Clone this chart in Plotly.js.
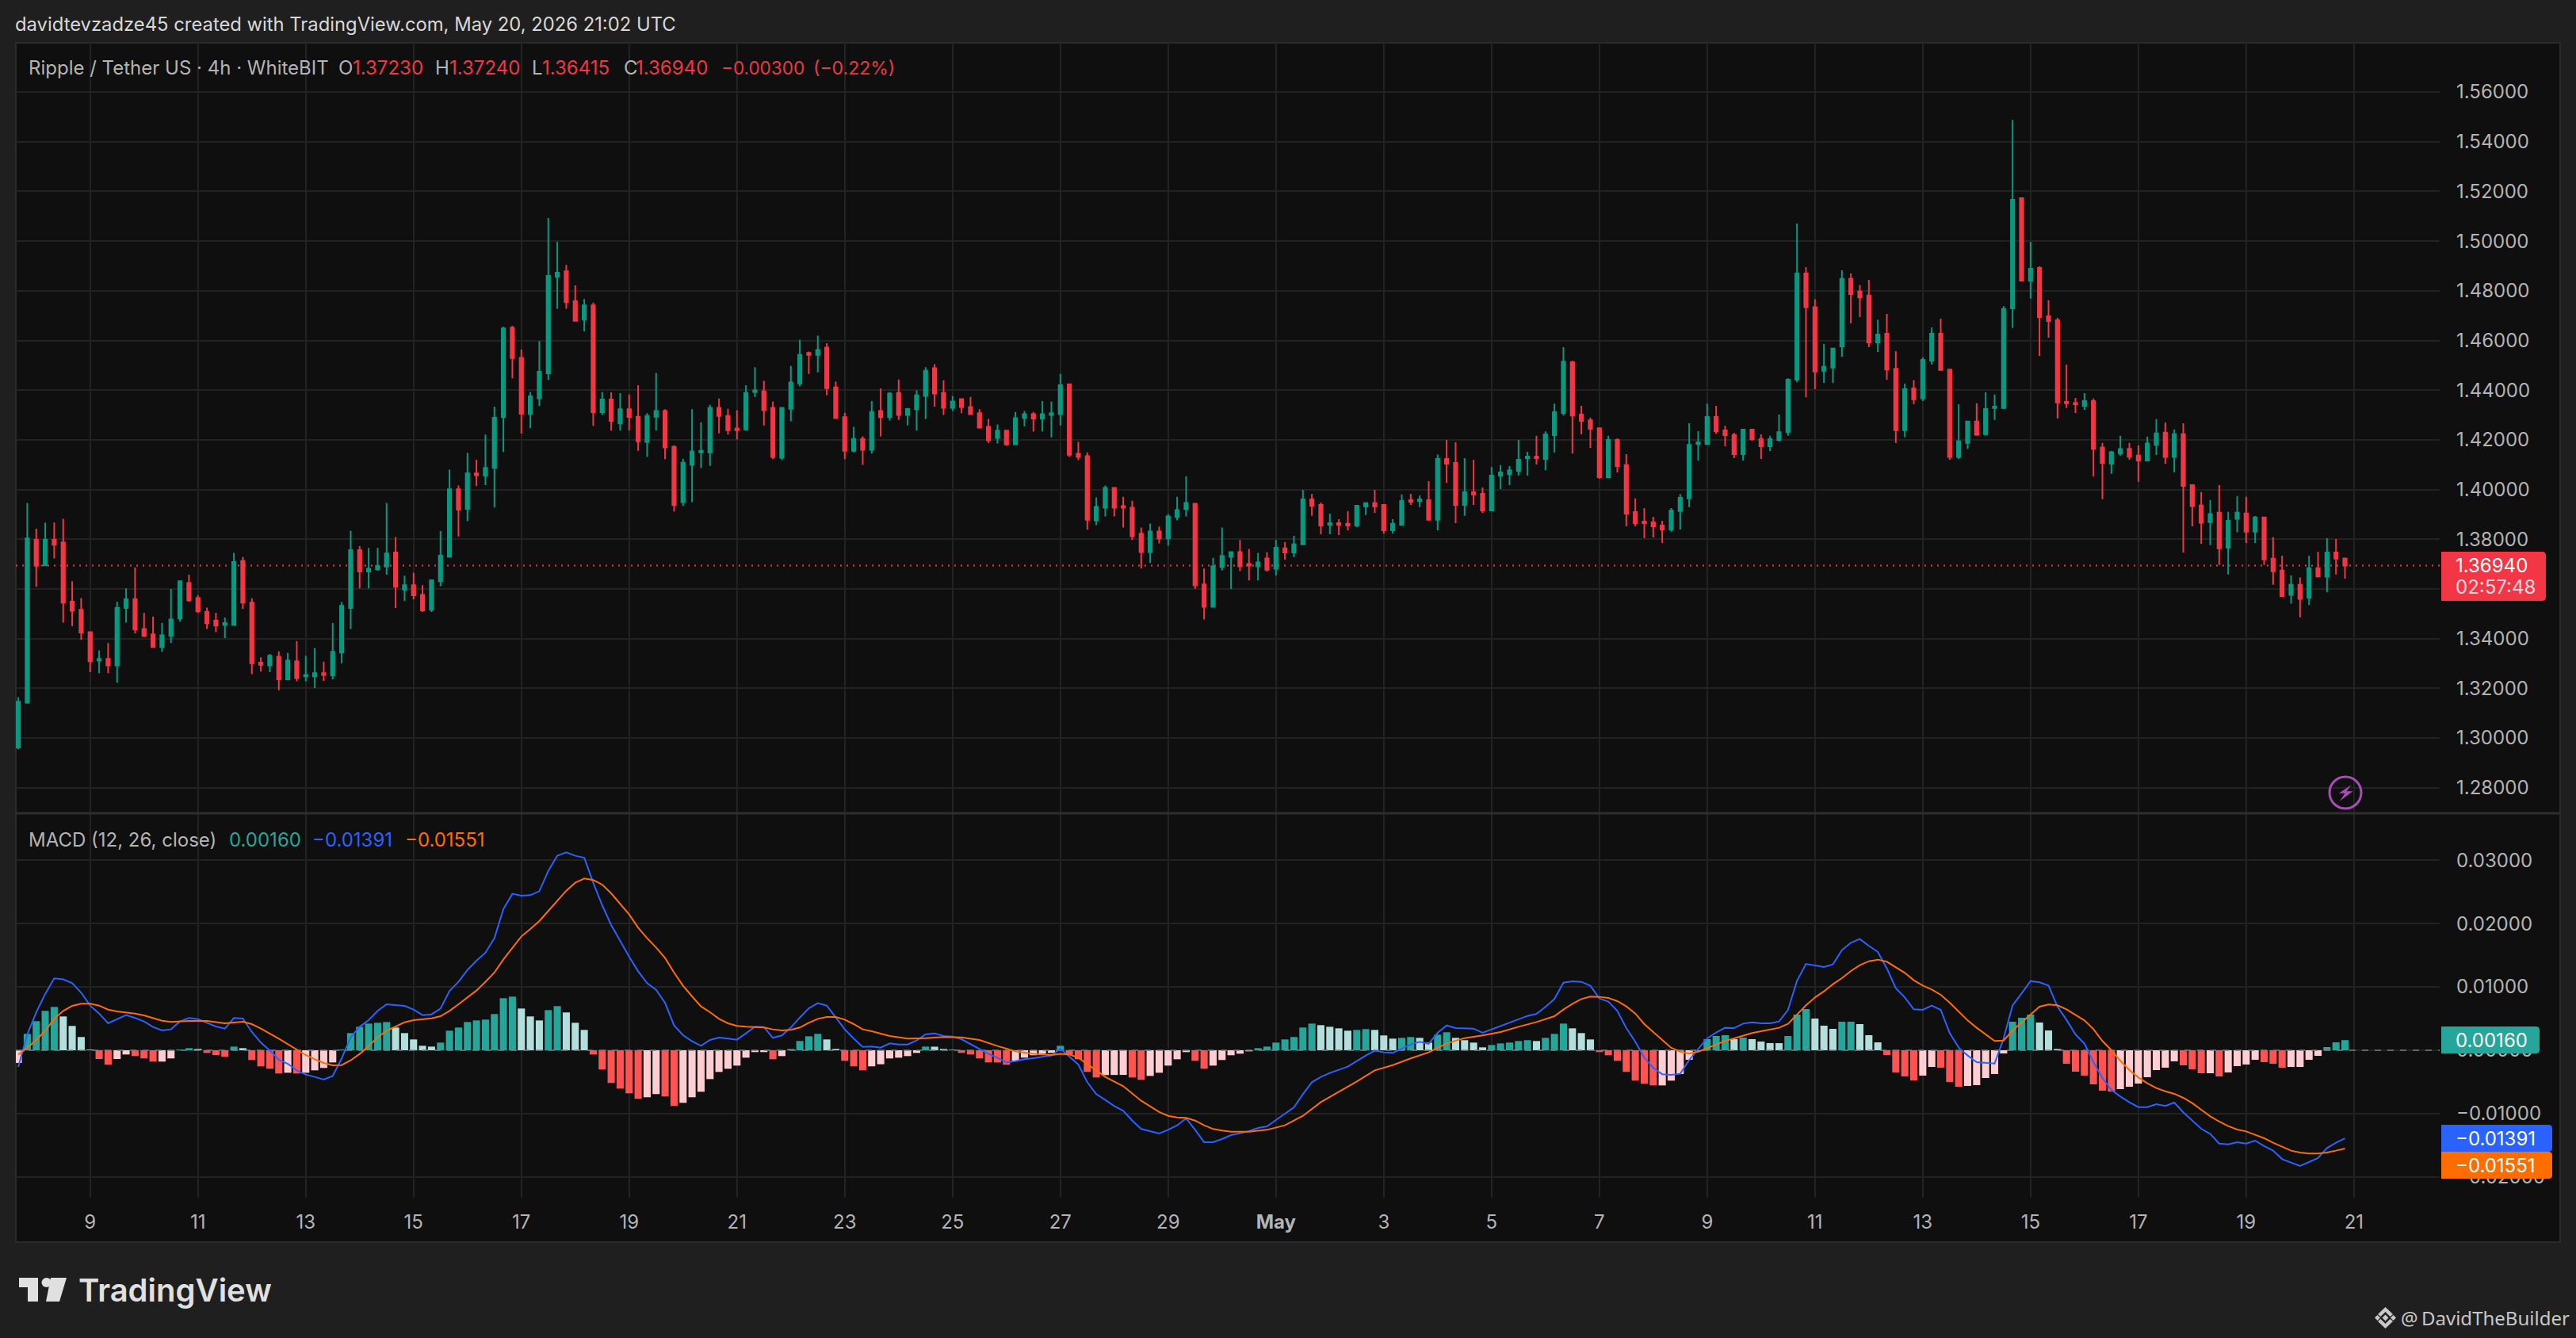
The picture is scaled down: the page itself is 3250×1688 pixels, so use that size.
<!DOCTYPE html>
<html>
<head>
<meta charset="utf-8">
<script src="https://cdn.plot.ly/plotly-3.0.1.min.js"></script>
<style>html,body{margin:0;padding:0;background:#1f1f1f}#chart{width:3250px;height:1688px}</style>
</head>
<body>
<div id="chart"></div>
<script>
// ---------- values (4h bars, oldest first) ----------
const barDirection =
"GGRGRRRRRG"+"RGGRRRGGGR"+"RRRGGRRRGR"+"GRGGRGGGRG"+"GGRGRRGGGR"+"GRGGGRRGGG"+"GRRGRGRGRR"+"GGRRGGGGRR"+"RGGRRGGGRG"+"RRRGRGRGRG"+
"GGRRGRRRRG"+"RGGRGGGRRR"+"GGRRRRGRGG"+"GRRGGGRRGR"+"GRGGRRGRRG"+"GRRGGRGRGR"+"RGRRGGGGGR"+"GGGRRRRGRR"+"RRRRGGGGGR"+"RRGRRGGGGR"+
"RGGGRRRGRR"+"GRGGRRGGRG"+"GGGRGRRRRR"+"GRRGGRRGGR"+"GRRRGRGGRG"+"RRRGRGRGRR";

const highs = [
1.3164,1.3946,1.3842,1.3867,1.3867,1.3882,1.3631,1.3563,1.3426,1.3353,
1.3382,1.3549,1.3602,1.3686,1.3503,1.3488,1.3463,1.3600,1.3631,1.3657,
1.3574,1.3525,1.3503,1.3485,1.3745,1.3728,1.3562,1.3325,1.3338,1.3349,
1.3342,1.3390,1.3331,1.3362,1.3307,1.3463,1.3547,1.3834,1.3772,1.3765,
1.3765,1.3946,1.3809,1.3653,1.3665,1.3615,1.3635,1.3833,1.4080,1.4016,
1.4148,1.4120,1.4221,1.4334,1.4655,1.4659,1.4563,1.4393,1.4598,1.5093,
1.4997,1.4904,1.4822,1.4767,1.4752,1.4393,1.4391,1.4388,1.4382,1.4420,
1.4307,1.4469,1.4323,1.4178,1.4124,1.4323,1.4271,1.4341,1.4366,1.4325,
1.4319,1.4420,1.4492,1.4437,1.4354,1.4329,1.4497,1.4603,1.4555,1.4619,
1.4589,1.4434,1.4309,1.4252,1.4214,1.4356,1.4407,1.4393,1.4443,1.4329,
1.4399,1.4492,1.4504,1.4440,1.4377,1.4366,1.4373,1.4323,1.4284,1.4262,
1.4239,1.4312,1.4316,1.4312,1.4356,1.4354,1.4465,1.4424,1.4192,1.4149,
1.3968,1.4016,1.4010,1.3971,1.3955,1.3847,1.3863,1.3851,1.3901,1.3971,
1.4054,1.3946,1.3682,1.3725,1.3847,1.3748,1.3797,1.3761,1.3745,1.3748,
1.3798,1.3788,1.3814,1.3999,1.3983,1.3948,1.3903,1.3881,1.3913,1.3938,
1.3945,1.3999,1.3941,1.3881,1.3980,1.3983,1.3976,1.4034,1.4141,1.4200,
1.4190,1.4126,1.4120,1.4008,1.4091,1.4098,1.4094,1.4200,1.4152,1.4216,
1.4234,1.4346,1.4573,1.4518,1.4337,1.4289,1.4247,1.4216,1.4206,1.4142,
1.3964,1.3925,1.3890,1.3874,1.3925,1.3982,1.4267,1.4235,1.4346,1.4337,
1.4257,1.4228,1.4244,1.4244,1.4222,1.4216,1.4302,1.4448,1.5071,1.4895,
1.4766,1.4586,1.4567,1.4882,1.4870,1.4823,1.4844,1.4684,1.4707,1.4557,
1.4426,1.4440,1.4532,1.4653,1.4688,1.4486,1.4343,1.4274,1.4347,1.4391,
1.4382,1.4738,1.5488,1.5176,1.4997,1.4898,1.4762,1.4691,1.4503,1.4369,
1.4388,1.4366,1.4188,1.4156,1.4216,1.4188,1.4177,1.4213,1.4283,1.4270,
1.4242,1.4267,1.4021,1.3990,1.3958,1.4018,1.3910,1.3974,1.3971,1.3893,
1.3888,1.3808,1.3734,1.3655,1.3646,1.3734,1.3750,1.3804,1.3801,1.3724];

const bodyTops = [
1.3146,1.3803,1.3798,1.3798,1.3798,1.3787,1.3549,1.3516,1.3426,1.3318,
1.3318,1.3523,1.3558,1.3558,1.3439,1.3417,1.3413,1.3477,1.3631,1.3624,
1.3563,1.3507,1.3472,1.3463,1.3708,1.3712,1.3545,1.3303,1.3331,1.3327,
1.3312,1.3309,1.3254,1.3261,1.3261,1.3347,1.3532,1.3756,1.3756,1.3681,
1.3692,1.3743,1.3747,1.3615,1.3615,1.3576,1.3635,1.3734,1.4001,1.4001,
1.4065,1.4065,1.4087,1.4289,1.4649,1.4651,1.4530,1.4375,1.4474,1.4860,
1.4873,1.4878,1.4758,1.4741,1.4741,1.4362,1.4362,1.4323,1.4323,1.4293,
1.4296,1.4316,1.4316,1.4172,1.4108,1.4153,1.4156,1.4329,1.4329,1.4296,
1.4246,1.4389,1.4399,1.4395,1.4329,1.4329,1.4431,1.4542,1.4550,1.4562,
1.4571,1.4411,1.4291,1.4204,1.4204,1.4312,1.4316,1.4386,1.4389,1.4324,
1.4379,1.4478,1.4488,1.4389,1.4354,1.4364,1.4332,1.4307,1.4252,1.4237,
1.4237,1.4287,1.4303,1.4303,1.4303,1.4307,1.4420,1.4424,1.4144,1.4134,
1.3930,1.4007,1.4007,1.3933,1.3927,1.3822,1.3831,1.3831,1.3892,1.3917,
1.3946,1.3943,1.3618,1.3691,1.3732,1.3748,1.3748,1.3700,1.3707,1.3723,
1.3766,1.3763,1.3779,1.3960,1.3960,1.3938,1.3865,1.3865,1.3862,1.3935,
1.3945,1.3945,1.3938,1.3862,1.3954,1.3957,1.3960,1.3957,1.4123,1.4123,
1.4107,1.3989,1.3989,1.3983,1.4056,1.4069,1.4078,1.4120,1.4133,1.4133,
1.4222,1.4311,1.4515,1.4512,1.4302,1.4279,1.4247,1.4200,1.4200,1.4098,
1.3909,1.3871,1.3868,1.3855,1.3916,1.3967,1.4180,1.4190,1.4292,1.4292,
1.4238,1.4219,1.4241,1.4241,1.4203,1.4203,1.4231,1.4442,1.4870,1.4870,
1.4734,1.4494,1.4567,1.4848,1.4848,1.4797,1.4781,1.4624,1.4627,1.4486,
1.4404,1.4407,1.4522,1.4627,1.4627,1.4483,1.4194,1.4274,1.4274,1.4324,
1.4334,1.4727,1.5166,1.5173,1.4889,1.4892,1.4697,1.4681,1.4353,1.4349,
1.4356,1.4356,1.4169,1.4150,1.4163,1.4164,1.4137,1.4185,1.4226,1.4229,
1.4223,1.4223,1.4018,1.3936,1.3901,1.3907,1.3874,1.3907,1.3904,1.3888,
1.3888,1.3722,1.3674,1.3617,1.3617,1.3684,1.3684,1.3747,1.3747,1.3723];

const bodyBottoms = [
1.2962,1.3142,1.3693,1.3695,1.3778,1.3545,1.3512,1.3424,1.3309,1.3311,
1.3292,1.3292,1.3523,1.3437,1.3411,1.3366,1.3366,1.3411,1.3481,1.3554,
1.3510,1.3463,1.3452,1.3455,1.3455,1.3545,1.3301,1.3294,1.3292,1.3236,
1.3236,1.3241,1.3248,1.3248,1.3254,1.3252,1.3344,1.3523,1.3670,1.3670,
1.3679,1.3690,1.3609,1.3597,1.3574,1.3514,1.3516,1.3631,1.3730,1.3919,
1.3922,1.4058,1.4056,1.4087,1.4292,1.4529,1.4305,1.4305,1.4366,1.4468,
1.4856,1.4754,1.4679,1.4684,1.4311,1.4311,1.4276,1.4267,1.4292,1.4194,
1.4192,1.4293,1.4169,1.3937,1.3949,1.4099,1.4149,1.4149,1.4296,1.4239,
1.4239,1.4242,1.4393,1.4319,1.4131,1.4128,1.4325,1.4427,1.4542,1.4542,
1.4408,1.4287,1.4156,1.4156,1.4160,1.4160,1.4291,1.4291,1.4300,1.4300,
1.4323,1.4377,1.4386,1.4329,1.4329,1.4332,1.4303,1.4249,1.4198,1.4208,
1.4182,1.4182,1.4287,1.4286,1.4286,1.4300,1.4303,1.4140,1.4131,1.3878,
1.3876,1.3927,1.3927,1.3927,1.3812,1.3748,1.3748,1.3803,1.3803,1.3889,
1.3921,1.3614,1.3528,1.3528,1.3688,1.3729,1.3691,1.3694,1.3691,1.3677,
1.3681,1.3747,1.3747,1.3779,1.3935,1.3855,1.3858,1.3858,1.3855,1.3855,
1.3932,1.3932,1.3836,1.3836,1.3858,1.3951,1.3954,1.3878,1.3878,1.4104,
1.3938,1.3938,1.3980,1.3916,1.3916,1.4056,1.4062,1.4075,1.4126,1.4126,
1.4123,1.4219,1.4308,1.4298,1.4276,1.4244,1.4050,1.4050,1.4094,1.3903,
1.3865,1.3865,1.3852,1.3839,1.3839,1.3913,1.3964,1.4184,1.4184,1.4235,
1.4219,1.4142,1.4142,1.4203,1.4174,1.4174,1.4200,1.4231,1.4442,1.4734,
1.4475,1.4478,1.4491,1.4576,1.4787,1.4773,1.4592,1.4592,1.4483,1.4239,
1.4239,1.4363,1.4366,1.4519,1.4481,1.4131,1.4131,1.4188,1.4220,1.4223,
1.4328,1.4328,1.4729,1.4841,1.4841,1.4694,1.4678,1.4350,1.4347,1.4343,
1.4337,1.4164,1.4107,1.4104,1.4145,1.4132,1.4117,1.4117,1.4180,1.4131,
1.4131,1.4015,1.3933,1.3866,1.3869,1.3763,1.3766,1.3882,1.3830,1.3830,
1.3719,1.3671,1.3571,1.3576,1.3560,1.3565,1.3650,1.3649,1.3722,1.3694];

const lows = [
1.2955,1.3138,1.3609,1.3695,1.3723,1.3464,1.3450,1.3395,1.3265,1.3261,
1.3261,1.3223,1.3464,1.3421,1.3406,1.3364,1.3347,1.3382,1.3468,1.3549,
1.3503,1.3439,1.3426,1.3402,1.3455,1.3519,1.3257,1.3267,1.3265,1.3192,
1.3232,1.3228,1.3228,1.3201,1.3230,1.3236,1.3301,1.3439,1.3602,1.3602,
1.3673,1.3657,1.3523,1.3551,1.3558,1.3507,1.3507,1.3611,1.3726,1.3811,
1.3873,1.4014,1.4018,1.3928,1.4151,1.4448,1.4225,1.4247,1.4336,1.4441,
1.4728,1.4728,1.4677,1.4637,1.4256,1.4300,1.4237,1.4237,1.4237,1.4156,
1.4131,1.4237,1.4122,1.3912,1.3933,1.3949,1.4086,1.4095,1.4226,1.4221,
1.4201,1.4238,1.4373,1.4258,1.4122,1.4118,1.4275,1.4415,1.4465,1.4472,
1.4379,1.4287,1.4122,1.4149,1.4099,1.4145,1.4214,1.4278,1.4280,1.4258,
1.4237,1.4284,1.4334,1.4300,1.4316,1.4307,1.4300,1.4249,1.4188,1.4185,
1.4176,1.4182,1.4255,1.4233,1.4233,1.4210,1.4258,1.4131,1.4118,1.3838,
1.3857,1.3892,1.3892,1.3847,1.3797,1.3682,1.3704,1.3783,1.3774,1.3876,
1.3892,1.3600,1.3477,1.3528,1.3675,1.3600,1.3672,1.3634,1.3634,1.3670,
1.3654,1.3718,1.3728,1.3776,1.3894,1.3820,1.3820,1.3817,1.3836,1.3849,
1.3897,1.3906,1.3823,1.3823,1.3858,1.3938,1.3929,1.3878,1.3836,1.4027,
1.3865,1.3894,1.3938,1.3906,1.3913,1.4002,1.4018,1.4056,1.4056,1.4101,
1.4078,1.4149,1.4298,1.4145,1.4222,1.4168,1.4043,1.4050,1.4069,1.3852,
1.3852,1.3804,1.3807,1.3785,1.3830,1.3839,1.3929,1.4117,1.4184,1.4225,
1.4174,1.4126,1.4117,1.4196,1.4123,1.4155,1.4193,1.4216,1.4432,1.4371,
1.4404,1.4429,1.4429,1.4535,1.4669,1.4694,1.4573,1.4554,1.4442,1.4188,
1.4210,1.4343,1.4356,1.4503,1.4481,1.4120,1.4123,1.4164,1.4216,1.4216,
1.4280,1.4324,1.4650,1.4838,1.4768,1.4538,1.4611,1.4286,1.4328,1.4308,
1.4321,1.4053,1.3961,1.4063,1.4137,1.4120,1.4031,1.4117,1.4139,1.4104,
1.4069,1.3747,1.3852,1.3782,1.3776,1.3696,1.3658,1.3828,1.3785,1.3785,
1.3696,1.3617,1.3568,1.3541,1.3486,1.3536,1.3646,1.3587,1.3658,1.36415];

const histogram = [
-.0020,.00259,.00459,.00622,.00684,.00534,.00384,.00209,.0001,-.00138,
-.00229,-.00138,-.00067,-.00092,-.00129,-.00179,-.00179,-.00129,.00012,.00033,
.00021,-.00042,-.00075,-.00104,.00058,.00033,-.00154,-.00254,-.00292,-.00367,
-.00355,-.00367,-.00355,-.00317,-.00279,-.00192,.00012,.00271,.00371,.00421,
.00434,.00446,.00359,.00271,.00171,.00071,.00058,.00121,.00309,.00359,
.00446,.00471,.00484,.00572,.00822,.00847,.00659,.00534,.00471,.00634,
.00697,.00597,.00434,.00321,-.00067,-.00304,-.00517,-.00605,-.0068,-.00767,
-.00742,-.00692,-.0073,-.0088,-.0083,-.00742,-.00655,-.00455,-.00342,-.00292,
-.00242,-.00117,-.00029,-.00029,-.00142,-.00092,.00021,.00146,.00221,.00259,
.00171,.00021,-.00167,-.00254,-.00317,-.00254,-.00221,-.00129,-.00117,-.00092,
-.00042,.00058,.00057,.00021,.00008,-.00042,-.00067,-.00129,-.00192,-.00193,
-.00229,-.00167,-.00117,-.00079,-.00054,-.00042,.00071,-.00067,-.00142,-.00342,
-.0043,-.00392,-.0039,-.00389,-.0043,-.00467,-.00405,-.00355,-.00242,-.00142,
-.00029,-.00167,-.00292,-.00242,-.00154,-.00079,-.00054,-.00017,.00033,.00058,
.00121,.00171,.00209,.00359,.00421,.00396,.00371,.00346,.00309,.00321,
.00334,.00321,.00234,.00184,.00196,.00209,.00196,.00121,.00246,.00284,
.00196,.00159,.00121,.00046,.00083,.00108,.00121,.00146,.00159,.00146,
.00196,.00259,.00421,.00346,.00271,.00171,-.00029,-.00079,-.00167,-.00342,
-.0048,-.0053,-.00555,-.00555,-.0048,-.00375,-.0015,-.0001,.00175,.00225,
.00238,.00175,.002,.00175,.00138,.00113,.00112,.00225,.00563,.00651,
.00501,.00388,.00338,.00451,.00451,.00413,.00238,.00125,-.00075,-.0035,
-.00413,-.00476,-.004,-.00263,-.00275,-.005,-.00576,-.00563,-.00551,-.00438,
-.00375,-.0005,.00451,.00513,.00563,.00438,.00313,.00021,-.00213,-.00338,
-.004,-.00538,-.00638,-.00651,-.00613,-.00576,-.00526,-.00426,-.00313,-.00275,
-.00175,-.00238,-.003,-.00363,-.00363,-.00413,-.0035,-.0025,-.00225,-.0015,
-.00188,-.00213,-.00275,-.00263,-.00263,-.0015,-.00088,.0005,.00125,.0016];

const macdLine = [
-.00263,.0025,.006,.0089,.01135,.0112,.0106,.0091,.00705,.0058,
.00425,.00488,.00555,.0051,.00455,.00367,.00313,.0033,.00455,.0051,
.00492,.00434,.00375,.00342,.0051,.005,.00288,.00121,-.00004,-.0015,
-.00213,-.00317,-.00384,-.00421,-.00463,-.00405,-.00129,.00204,.00371,.00476,
.00622,.00726,.00713,.007,.00642,.00555,.00567,.00659,.00934,.0108,
.01268,.01414,.0154,.01769,.02228,.0247,.0244,.02449,.02511,.02833,
.03071,.03125,.03071,.03041,.02645,.0229,.01977,.01727,.01477,.01247,
.0106,.00955,.00747,.00392,.00238,.00142,.00071,.00163,.002,.00184,
.00167,.00267,.00371,.00367,.00196,.00234,.00359,.00517,.00663,.00743,
.00705,.00517,.0033,.00184,.00054,.00058,.00042,.00108,.00092,.00092,
.00154,.0025,.00267,.00225,.00217,.00175,.001,.00025,-.00058,-.00117,
-.00192,-.00171,-.00142,-.00125,-.00108,-.00083,.00025,-.001,-.00225,-.00505,
-.00693,-.00784,-.0088,-.00955,-.0111,-.01243,-.01277,-.01314,-.01256,-.01185,
-.01076,-.01256,-.01452,-.01452,-.01402,-.01339,-.0131,-.01277,-.01227,-.01201,
-.01101,-.01005,-.00901,-.00693,-.00505,-.00421,-.00359,-.00309,-.00259,-.00171,
-.00083,-.00008,-.00033,-.00042,.00025,.00092,.00134,.001,.00275,.00392,
.0035,.0035,.00342,.00275,.0033,.00384,.00434,.00492,.00542,.00576,
.00684,.00809,.01068,.01089,.0108,.01018,.00818,.00768,.00622,.0035,
.00134,-.00117,-.00275,-.0038,-.00388,-.00371,-.00154,.00021,.00188,.0028,
.00355,.0035,.00421,.00442,.00426,.00426,.00455,.00638,.01097,.01364,
.01339,.01314,.01356,.01581,.01698,.01756,.01648,.01552,.01293,.0098,
.00834,.00647,.00638,.00705,.00638,.00271,.00042,-.00083,-.00188,-.002,
-.00209,.00188,.00709,.00897,.01093,.01072,.01022,.00688,.0048,.0025,
.00104,-.00188,-.00438,-.00626,-.0073,-.00822,-.00897,-.00897,-.00851,-.0088,
-.00826,-.0098,-.01106,-.01239,-.01322,-.01473,-.01485,-.01452,-.01473,-.01427,
-.01514,-.01585,-.01719,-.01773,-.01827,-.01765,-.01702,-.01544,-.0146,-.01391];

const signalBars = [
0,1,2,3,4,5,6,7,8,9,10,11,13,14,16,17,19,21,23,25,26,27,29,30,31,32,33,34,35,36,37,38,39,40,41,42,43,44,45,46,47,48,49,50,
51,52,53,54,55,56,57,58,59,60,61,62,63,64,65,66,67,68,69,70,71,72,73,74,75,76,77,78,79,80,81,83,84,85,86,87,88,89,90,91,92,93,94,95,
97,99,101,103,105,107,109,111,113,115,116,117,118,119,120,121,123,125,127,128,129,130,131,132,133,134,135,137,139,141,143,145,147,149,151,153,155,157,159,161,163,165,167,169,171,172,173,174,175,176,177,178,179,180,181,183,184,
185,186,187,188,189,190,191,192,193,194,195,196,197,198,199,200,201,202,203,204,205,206,207,208,209,210,211,212,213,214,215,216,217,218,219,220,221,222,223,224,225,226,227,228,229,230,231,232,233,234,235,236,237,238,239,240,241,242,243,244,245,246,247,248,249,250,251,252,253,254,255,256,257,258,259];

const signalLine = [
-.00067,.00038,.00163,.00309,.00496,.00622,.00701,.00734,.00734,.00705,.00642,.00613,.0058,.00551,.00467,.00446,.00463,.00463,.00426,.0045,.00413,.00342,.00184,.001,.00008,-.00075,-.00142,-.002,-.00238,-.00234,-.00159,-.00058,.00067,.00204,.00309,.00371,.00442,.00476,.00488,.00505,.00538,.00622,.00726,.0083,
.00943,.0108,.01227,.01435,.01623,.01798,.01915,.0204,.02199,.02353,.0252,.02645,.02712,.02687,.02616,.02478,.02311,.02144,.01936,.01769,.01623,.01456,.01227,.01018,.00851,.00693,.00601,.00496,.00426,.00384,.00371,.00359,.0033,.00313,.00321,.00359,.00434,.00496,.00526,.00526,.00484,.00413,.0033,.003,
.00225,.00184,.00192,.00209,.00204,.00163,.00067,-.00017,-.00058,-.00075,-.00058,-.00067,-.00117,-.00213,-.00317,-.00421,-.00567,-.00797,-.00976,-.01035,-.0106,-.01068,-.0111,-.01185,-.01243,-.01268,-.01285,-.01285,-.01256,-.01185,-.01035,-.00818,-.00659,-.00492,-.00317,-.00234,-.00129,-.00033,.00108,.00192,.00234,.00288,.00371,.00446,.00538,.00642,.00734,.00809,.00847,.00843,.00826,.00776,.00693,.0058,.00413,.00163,.00038,
-.00021,-.0005,-.00021,.00029,.00092,.00146,.00188,.00229,.00271,.003,.00325,.00355,.00417,.00563,.00709,.00834,.0093,.01043,.01139,.01252,.01343,.01406,.01431,.01398,.01314,.01222,.01106,.01022,.0096,.00876,.00751,.00605,.00471,.00355,.0025,.00146,.00154,.00313,.00438,.00563,.00688,.00722,.00709,.00647,.00563,.00471,.00334,.00146,0,-.00167,-.00313,-.0043,-.00522,-.00597,-.00647,-.00688,-.00751,-.00834,-.00939,-.01043,-.01126,-.01197,-.01252,-.01281,-.01335,-.01389,-.0146,-.01523,-.01585,-.01615,-.01631,-.01631,-.01615,-.01585,-.01551];

const lastClose = 1.3694;
const priceTicks = [1.28,1.30,1.32,1.34,1.36,1.38,1.40,1.42,1.44,1.46,1.48,1.50,1.52,1.54,1.56];
const priceTickLabels = ["1.28000","1.30000","1.32000","1.34000","","1.38000","1.40000","1.42000","1.44000","1.46000","1.48000","1.50000","1.52000","1.54000","1.56000"];
const macdTicks = [-0.02,-0.01,0,0.01,0.02,0.03];
const dayTicks = ["2026-04-09","2026-04-11","2026-04-13","2026-04-15","2026-04-17","2026-04-19","2026-04-21","2026-04-23","2026-04-25","2026-04-27","2026-04-29","2026-05-01","2026-05-03","2026-05-05","2026-05-07","2026-05-09","2026-05-11","2026-05-13","2026-05-15","2026-05-17","2026-05-19","2026-05-21"];
const dayLabels = ["9","11","13","15","17","19","21","23","25","27","29","<b>May</b>","3","5","7","9","11","13","15","17","19","21"];

// ---------- derived series ----------
const W = 3250, H = 1688;
const firstBar = Date.UTC(2026,3,7,16,0,0), step = 4*3600*1000;
const barTimes = highs.map((_,i)=>new Date(firstBar+i*step).toISOString());
const isUp = i => barDirection[i]==="G";
const opens = highs.map((_,i)=>isUp(i)?bodyBottoms[i]:bodyTops[i]);
const closes = highs.map((_,i)=>isUp(i)?bodyTops[i]:bodyBottoms[i]);
const histColors = histogram.map((v,i)=>{
  const p = i? histogram[i-1] : v;
  if(v>=0) return v>=p ? "#26a69a" : "#b2dfdb";
  return v<p ? "#ff5252" : "#ffcdd2";
});
const signalTimes = signalBars.map(i=>barTimes[i]);

// ---------- pixel helpers for decoration ----------
const px = x=>x/W, py = y=>1-y/H;
const UI = "Inter, Roboto, sans-serif";
const poly = (pts,fill)=>({type:"path",xref:"paper",yref:"paper",layer:"above",fillcolor:fill,line:{width:0},
  path:"M"+pts.map(p=>px(p[0])+","+py(p[1])).join(" L")+" Z"});
const rect = (x0,y0,x1,y1,fill,line,layer)=>({type:"rect",xref:"paper",yref:"paper",layer:layer||"above",
  x0:px(x0),x1:px(x1),y0:py(y0),y1:py(y1),fillcolor:fill,line:line||{width:0}});
const tag = (x0,y0,x1,y1,fill)=>{ const r=4;
  return poly([[x0,y0],[x1-r,y0],[x1-1,y0+1],[x1,y0+r],[x1,y1-r],[x1-1,y1-1],[x1-r,y1],[x0,y1]],fill); };
const text = (s,x,y,color,size,extra)=>Object.assign({text:s,xref:"paper",yref:"paper",x:px(x),y:py(y),xanchor:"left",yanchor:"middle",
  showarrow:false,borderpad:0,borderwidth:0,font:{family:UI,size:size||24,color:color}},extra||{});
const diamond = (cx,cy,r,fill)=>poly([[cx,cy-r],[cx+r,cy],[cx,cy+r],[cx-r,cy]],fill);

const RED="#f23645", GREEN="#089981", BLUE="#2962ff", ORANGE="#ff6d00", TEAL="#26a69a", GREY="#b4b4b4";

const shapes = [
  rect(20,54,3230,1567,"#0f0f0f",{color:"#2b2b2b",width:2},"below"),
  {type:"line",xref:"paper",yref:"y",x0:px(20),x1:px(3078),y0:lastClose,y1:lastClose,layer:"below",line:{color:RED,width:2,dash:"2px,6px"}},
  {type:"line",xref:"paper",yref:"paper",x0:px(20),x1:px(3230),y0:py(1026),y1:py(1026),layer:"above",line:{color:"#2e2e2e",width:3}},
  tag(3080,696,3212,758,RED),
  tag(3080,1295,3204,1329,TEAL),
  tag(3080,1419,3220,1453,BLUE),
  tag(3080,1453,3220,1487,ORANGE),
  {type:"circle",xref:"paper",yref:"paper",layer:"above",x0:px(2939),x1:px(2979),y0:py(980),y1:py(1020),line:{color:"#a94cb8",width:3},fillcolor:"rgba(0,0,0,0)"},
  poly([[2966.7,990],[2950.9,1000.7],[2958.6,1000.7],[2951.9,1010.7],[2968.4,998.3],[2960.4,998.3]],"#a94cb8"),
  // TradingView mark
  poly([[24,1612],[48,1612],[48,1642],[35,1642],[35,1624],[24,1624]],"#e0e0e0"),
  {type:"circle",xref:"paper",yref:"paper",layer:"above",x0:px(52.5),x1:px(65),y0:py(1612),y1:py(1624),fillcolor:"#e0e0e0",line:{width:0}},
  poly([[64,1612],[84,1612],[75,1642],[58,1642]],"#e0e0e0"),
  // watermark icon
  poly([[3009.5,1649],[3019,1658],[3015.5,1661],[3009.5,1655],[3003.5,1661],[3000,1658]],"#c8c8c8"),
  poly([[3009.5,1676],[3019,1667],[3015.5,1664],[3009.5,1670],[3003.5,1664],[3000,1667]],"#c8c8c8"),
  diamond(3009.5,1662.5,4,"#c8c8c8"),
  diamond(2999.5,1662.5,3.5,"#c8c8c8"),
  diamond(3019.5,1662.5,3.5,"#c8c8c8")
];

const annotations = [
  text("davidtevzadze45 created with TradingView.com, May 20, 2026 21:02 UTC",19,31,"#d8d8d8",23.8),
  text("Ripple / Tether US · 4h · WhiteBIT",36,86,GREY,24),
  text("O",427,86,GREY,24), text("1.37230",445,86,RED,24),
  text("H",549,86,GREY,24), text("1.37240",567,86,RED,24),
  text("L",671,86,GREY,24), text("1.36415",684,86,RED,24),
  text("C",787,86,GREY,24), text("1.36940",802,86,RED,24),
  text("−0.00300",910,86,RED,22.5), text("(−0.22%)",1026,86,RED,23),
  text("MACD (12, 26, close)",36,1059,GREY,24),
  text("0.00160",289,1059,TEAL,24),
  text("−0.01391",394,1059,BLUE,24),
  text("−0.01551",511,1059,ORANGE,24),
  text("1.36940",3098,713,"#ffffff",24),
  text("02:57:48",3098,741,"#ffd9dd",24),
  text("0.00160",3098,1312,"#ffffff",24),
  text("−0.01391",3098,1436,"#ffffff",24),
  text("−0.01551",3098,1470,"#ffffff",24),
  text("TradingView",99,1627,"#e0e0e0",40,{font:{family:UI,size:40,color:"#e0e0e0",weight:600}}),
  text("@",3029,1662,"#c8c8c8",24,{font:{family:"'Noto Sans', sans-serif",size:24,color:"#c8c8c8"}}),
  text("DavidTheBuilder",3055,1662,"#c8c8c8",24,{font:{family:"'Noto Sans', sans-serif",size:24,color:"#c8c8c8"}})
];

const xRange = ["2026-04-07 14:55","2026-05-22 14:10"];
const GRID = "#222222";
const xCommon = {type:"date",range:xRange,tickmode:"array",tickvals:dayTicks,ticktext:dayLabels,showgrid:true,gridcolor:GRID,gridwidth:2,
  zeroline:false,showline:false,ticks:"",domain:[px(20),px(3078)],rangeslider:{visible:false},automargin:false};

const traces = [
  {type:"candlestick",x:barTimes,open:opens,high:highs,low:lows,close:closes,xaxis:"x",yaxis:"y",whiskerwidth:0,
   increasing:{line:{color:GREEN,width:2},fillcolor:GREEN},decreasing:{line:{color:RED,width:2},fillcolor:RED},showlegend:false,hoverinfo:"skip"},
  {type:"bar",x:barTimes,y:histogram,marker:{color:histColors,line:{width:0}},xaxis:"x2",yaxis:"y2",showlegend:false,hoverinfo:"skip"},
  {type:"scatter",mode:"lines",x:[xRange[0],xRange[1]],y:[0,0],xaxis:"x2",yaxis:"y2",line:{color:"rgba(120,123,134,.75)",width:2,dash:"8px,8px"},showlegend:false,hoverinfo:"skip"},
  {type:"scatter",mode:"lines",x:barTimes,y:macdLine,xaxis:"x2",yaxis:"y2",line:{color:BLUE,width:2},showlegend:false,hoverinfo:"skip"},
  {type:"scatter",mode:"lines",x:signalTimes,y:signalLine,xaxis:"x2",yaxis:"y2",line:{color:ORANGE,width:2},showlegend:false,hoverinfo:"skip"}
];

const tickFont = {family:UI,size:24,color:GREY};
const layout = {
  width:W,height:H,margin:{l:0,r:0,t:0,b:0},autosize:false,
  paper_bgcolor:"#1f1f1f",plot_bgcolor:"#0f0f0f",showlegend:false,bargap:0.2,boxgap:0.47,
  xaxis:Object.assign({},xCommon,{anchor:"y",showticklabels:false}),
  xaxis2:Object.assign({},xCommon,{anchor:"y2",matches:"x",showticklabels:true,tickfont:tickFont,ticklabelstandoff:14}),
  yaxis:{domain:[py(1026),py(54)],range:[1.2697,1.5798],anchor:"x",side:"right",tickmode:"array",tickvals:priceTicks,ticktext:priceTickLabels,
    tickfont:tickFont,showgrid:true,gridcolor:GRID,gridwidth:2,zeroline:false,showline:false,ticks:"",ticklabelstandoff:20},
  yaxis2:{domain:[py(1511),py(1026)],range:[-0.02328,0.03742],anchor:"x2",side:"right",tickmode:"array",tickvals:macdTicks,tickformat:".5f",
    tickfont:tickFont,showgrid:true,gridcolor:GRID,gridwidth:2,zeroline:false,showline:false,ticks:"",ticklabelstandoff:20},
  shapes:shapes,annotations:annotations
};
Plotly.newPlot("chart",traces,layout,{staticPlot:true,displayModeBar:false});
</script>
</body>
</html>
